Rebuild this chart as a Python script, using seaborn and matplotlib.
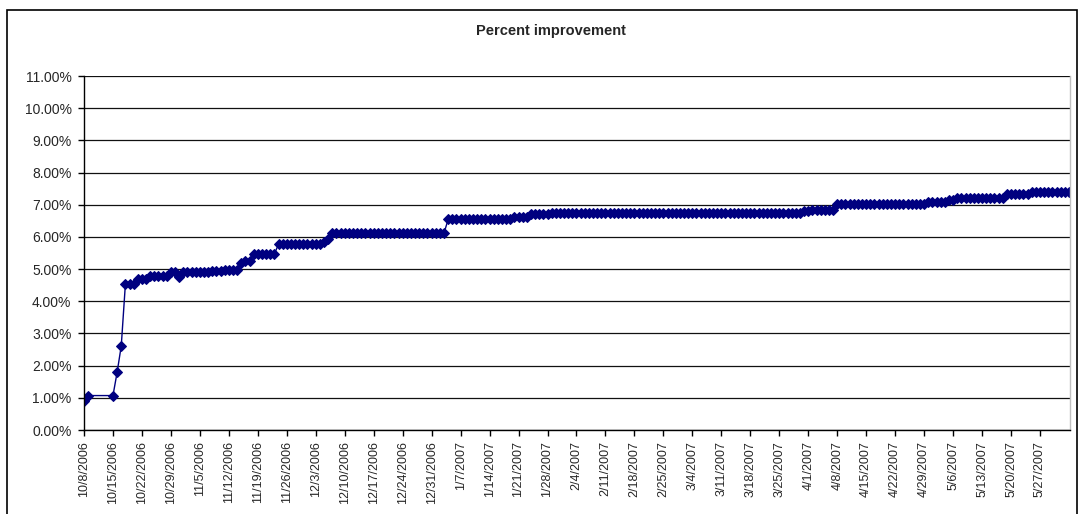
import pandas as pd
import numpy as np
import matplotlib
matplotlib.use("Agg")
import matplotlib.pyplot as plt
import matplotlib.patches as mpatches
from matplotlib.ticker import PercentFormatter, MultipleLocator
import seaborn as sns

# 数据：日期（10/10-10/14 无数据）
dates = [pd.Timestamp("2006-10-08"), pd.Timestamp("2006-10-09")] + \
    list(pd.date_range("2006-10-15", "2007-06-03", freq="D"))

# 每日百分比（按周排列，从 10/15 开始）
pct_start = [0.90, 1.07]
pct_weeks = [
    1.07, 1.79, 2.61, 4.53, 4.53, 4.53, 4.68,
    4.68, 4.68, 4.78, 4.78, 4.78, 4.78, 4.78,
    4.90, 4.90, 4.74, 4.91, 4.91, 4.91, 4.91,
    4.91, 4.91, 4.91, 4.94, 4.94, 4.94, 4.98,
    4.98, 4.98, 4.98, 5.20, 5.25, 5.25, 5.47,
    5.47, 5.47, 5.47, 5.47, 5.47, 5.77, 5.77,
    5.77, 5.77, 5.77, 5.77, 5.77, 5.77, 5.77,
    5.77, 5.77, 5.85, 5.93, 6.12, 6.12, 6.12,
    6.12, 6.12, 6.12, 6.12, 6.12, 6.12, 6.12,
    6.12, 6.12, 6.12, 6.12, 6.12, 6.12, 6.12,
    6.12, 6.12, 6.12, 6.12, 6.12, 6.12, 6.12,
    6.12, 6.12, 6.12, 6.12, 6.55, 6.55, 6.55,
    6.55, 6.55, 6.55, 6.55, 6.55, 6.55, 6.55,
    6.55, 6.55, 6.55, 6.55, 6.55, 6.55, 6.62,
    6.62, 6.62, 6.62, 6.70, 6.70, 6.70, 6.70,
    6.70, 6.74, 6.74, 6.74, 6.74, 6.74, 6.74,
    6.74, 6.74, 6.74, 6.74, 6.74, 6.74, 6.74,
    6.74, 6.74, 6.74, 6.74, 6.74, 6.74, 6.74,
    6.74, 6.74, 6.74, 6.74, 6.74, 6.74, 6.74,
    6.74, 6.74, 6.74, 6.74, 6.74, 6.74, 6.74,
    6.74, 6.74, 6.74, 6.74, 6.74, 6.74, 6.74,
    6.74, 6.74, 6.74, 6.74, 6.74, 6.74, 6.74,
    6.74, 6.74, 6.74, 6.74, 6.74, 6.74, 6.74,
    6.74, 6.74, 6.74, 6.74, 6.74, 6.74, 6.80,
    6.80, 6.85, 6.85, 6.85, 6.85, 6.85, 6.85,
    7.02, 7.02, 7.02, 7.02, 7.02, 7.02, 7.02,
    7.02, 7.02, 7.02, 7.02, 7.02, 7.02, 7.02,
    7.02, 7.02, 7.02, 7.02, 7.02, 7.02, 7.02,
    7.02, 7.10, 7.10, 7.10, 7.10, 7.10, 7.16,
    7.16, 7.22, 7.22, 7.22, 7.22, 7.22, 7.22,
    7.22, 7.22, 7.22, 7.22, 7.22, 7.22, 7.34,
    7.34, 7.34, 7.34, 7.34, 7.34, 7.41, 7.41,
    7.41, 7.41, 7.41, 7.41, 7.41, 7.41, 7.41,
    7.41,
]
percent = pct_start + pct_weeks

tick_dates = pd.date_range("2006-10-08", "2007-05-27", freq="7D")
tick_labels = [f"{d.month}/{d.day}/{d.year}" for d in tick_dates]

df = pd.DataFrame({"date": dates, "pct": percent})

sns.set_style("white")
plt.rcParams["font.family"] = ["Liberation Sans", "DejaVu Sans"]

fig = plt.figure(figsize=(10.81, 5.14), dpi=100)
ax = fig.add_axes([84 / 1081, 1 - 430 / 514, (1070 - 84) / 1081, (430 - 76) / 514])

sns.lineplot(data=df, x="date", y="pct", ax=ax, color="#000080",
             marker="D", markersize=4.6, markeredgecolor="#000080",
             linewidth=1.0)

ax.set_ylim(0, 11)
ax.set_xlim(pd.Timestamp("2006-10-08"), pd.Timestamp("2007-06-03 06:00"))
ax.yaxis.set_major_locator(MultipleLocator(1))
ax.yaxis.set_major_formatter(PercentFormatter(xmax=100, decimals=2))
ax.set_xticks(tick_dates)
ax.set_xticklabels(tick_labels, rotation=90, fontsize=9)
ax.tick_params(axis="y", labelsize=10, direction="out", length=4, width=1,
               color="black", left=True, pad=5)
ax.tick_params(axis="x", direction="out", length=4, width=1,
               color="black", bottom=True, pad=4)
ax.set_xlabel("")
ax.set_ylabel("")

# 网格线
ax.grid(axis="y", color="#111111", linewidth=0.9)
ax.grid(axis="x", visible=False)
ax.set_axisbelow(True)
for side in ["left", "bottom"]:
    ax.spines[side].set_color("black")
    ax.spines[side].set_linewidth(1)
ax.spines["top"].set_visible(False)
ax.spines["right"].set_color("#c0c0c0")
ax.spines["right"].set_linewidth(1)

fig.text(551 / 1081, 1 - 31 / 514, "Percent improvement", ha="center",
         va="center", fontsize=10.5, fontweight="bold")

# 外框（底边在图外）
fig.patches.append(mpatches.Rectangle((7 / 1081, -3 / 514), (1077 - 7) / 1081,
                                      (504 + 3) / 514, transform=fig.transFigure,
                                      fill=False, edgecolor="black", linewidth=1.2))

fig.savefig("out.png", dpi=100)
